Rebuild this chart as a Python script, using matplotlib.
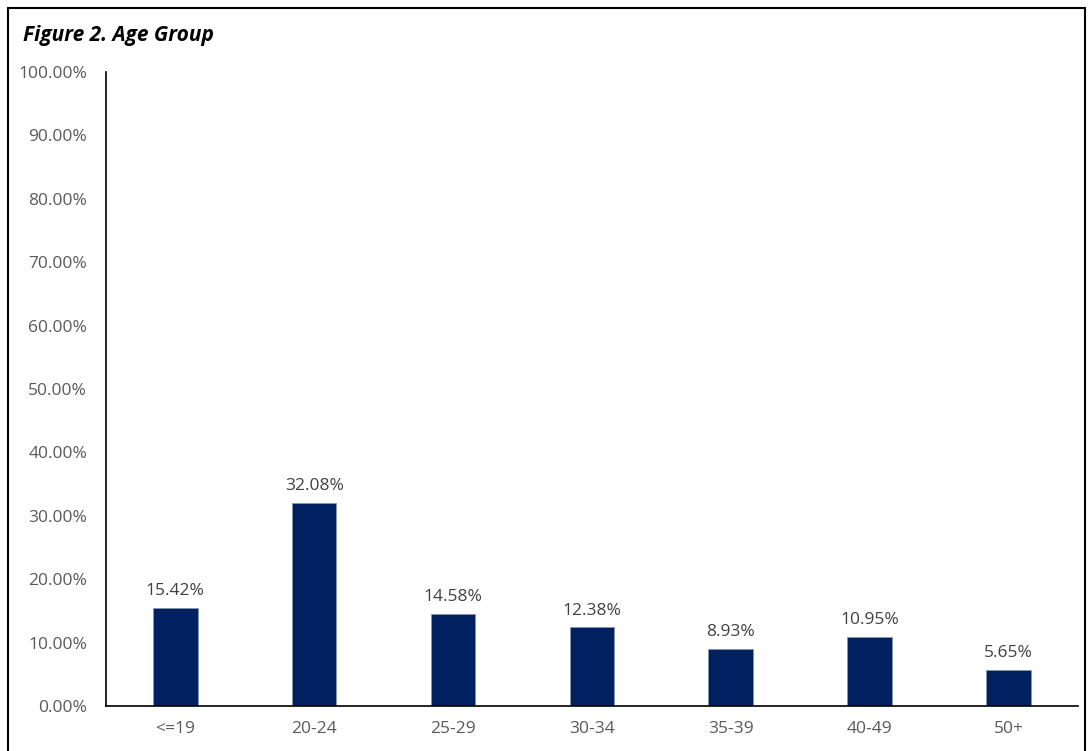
import matplotlib.pyplot as plt
from matplotlib.patches import Rectangle
from matplotlib.ticker import FuncFormatter, MultipleLocator

plt.rcParams['font.family'] = ['Open Sans', 'DejaVu Sans']

# data
age_groups = ["<=19", "20-24", "25-29", "30-34", "35-39", "40-49", "50+"]
shares = [15.42, 32.08, 14.58, 12.38, 8.93, 10.95, 5.65]

fig = plt.figure(figsize=(10.92, 7.51), dpi=100)
ax = fig.add_axes([0.097, 0.06, 0.89, 0.844])

xs = range(len(age_groups))
ax.bar(xs, shares, width=0.32, color="#002060", edgecolor="#8497b0", linewidth=0.6, zorder=2)

for x, v in zip(xs, shares):
    ax.text(x, v + 1.4, f"{v:.2f}%", ha="center", va="bottom", fontsize=12.5, color="#404040")

ax.set_xlim(-0.5, len(age_groups) - 0.5)
ax.set_ylim(0, 100)
ax.yaxis.set_major_locator(MultipleLocator(10))
ax.yaxis.set_major_formatter(FuncFormatter(lambda v, _: f"{v:.2f}%"))
ax.set_xticks(list(xs))
ax.set_xticklabels(age_groups)
ax.tick_params(axis="both", length=0, labelsize=12.5, labelcolor="#595959")
ax.tick_params(axis="x", pad=11)
ax.tick_params(axis="y", pad=13.5)

for side in ["top", "right"]:
    ax.spines[side].set_visible(False)
ax.spines["left"].set_linewidth(1.2)
ax.spines["bottom"].set_linewidth(1.2)

fig.text(0.021, 0.953, "Figure 2. Age Group", fontsize=15, fontweight="bold",
         fontstyle="italic", color="black", ha="left", va="center")

# outer frame
fig.patches.append(Rectangle((0.007, -0.01), 0.987, 1.0, transform=fig.transFigure,
                             fill=False, edgecolor="black", linewidth=1.5))

fig.savefig("out.png", dpi=100)
